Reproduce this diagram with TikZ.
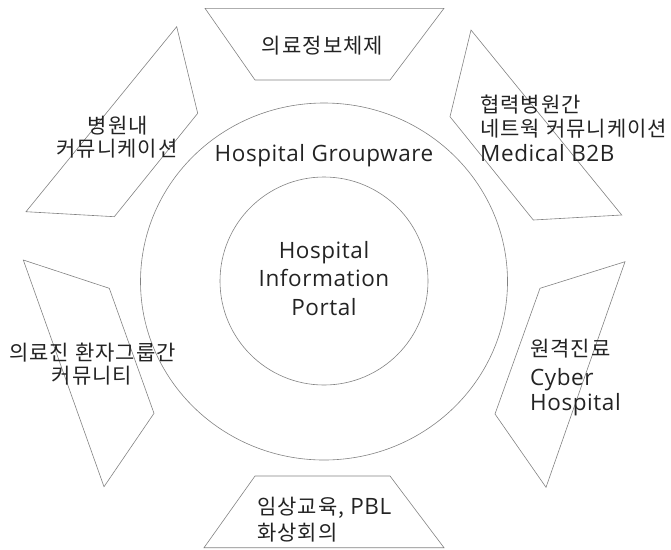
\documentclass[tikz,border=0pt]{standalone}
\usepackage{fontspec}
\setmainfont{Open Sans}[LetterSpace=2.5]
\newfontfamily\kr{Noto Sans CJK KR}[LetterSpace=5]
\definecolor{linegray}{RGB}{130,130,130}
\definecolor{textgray}{RGB}{35,35,35}
\tikzset{
  outline/.style={draw=linegray, line width=0.6pt},
  lat/.style={font=\fontsize{22.5}{26}\selectfont, text=textgray, inner sep=0pt},
  kor/.style={font=\kr\fontsize{21}{25}\selectfont, text=textgray, inner sep=0pt},
}
\begin{document}
\begin{tikzpicture}[x=1pt,y=-1pt]
\useasboundingbox (0,0) rectangle (671,549);
% circles
\draw[outline] (324,281.5) ellipse [x radius=183.5, y radius=178.5];
\draw[outline] (324,281) circle [radius=104];
% six panels
\draw[outline] (205,8.3) -- (444,8.3) -- (390,80) -- (255,80) -- cycle;
\draw[outline] (471,30) -- (450,116.7) -- (533.3,220) -- (621.7,215) -- cycle;
\draw[outline] (176.7,26.7) -- (197.7,113.3) -- (114.3,216.7) -- (26,211.7) -- cycle;
\draw[outline] (23.3,260) -- (109.3,288.3) -- (154,413.3) -- (104,486.7) -- cycle;
\draw[outline] (625,261.7) -- (540,288.3) -- (495,414) -- (546,487.3) -- cycle;
\draw[outline] (255,476) -- (390,476) -- (444,547.7) -- (204,547.7) -- cycle;
% centre texts
\node[lat, anchor=base] (gw) at (324,161.7) {Hospital Groupware};
\node[lat, anchor=base] (hip1) at (324,258) {Hospital};
\node[lat, anchor=base] (hip2) at (324,286.7) {Information};
\node[lat, anchor=base] (hip3) at (324,315) {Portal};
% top
\node[kor, anchor=base] (top) at (322.5,53.6) {의료정보체제};
% top right
\node[kor, anchor=base west] (tr1) at (480,112) {협력병원간};
\node[kor, anchor=base west] (tr2) at (480,136.8) {네트웍 커뮤니케이션};
\node[lat, anchor=base west] (tr3) at (480,161) {Medical B2B};
% top left
\node[kor, anchor=base] (tl1) at (118,133.6) {병원내};
\node[kor, anchor=base] (tl2) at (117,156.9) {커뮤니케이션};
% bottom left
\node[kor, anchor=base] (bl1) at (92.5,360.3) {의료진 환자그룹간};
\node[kor, anchor=base] (bl2) at (92,383.6) {커뮤니티};
% bottom right
\node[kor, anchor=base west] (br1) at (530,356.9) {원격진료};
\node[lat, anchor=base west] (br2) at (530,385) {Cyber};
\node[lat, anchor=base west] (br3) at (530,410) {Hospital};
% bottom
\node[kor, anchor=base west] (bt1) at (257,514.6) {임상교육, {\rmfamily\fontsize{22.5}{26}\selectfont PBL}};
\node[kor, anchor=base west] (bt2) at (257,540.3) {화상회의};
\end{tikzpicture}
\end{document}
